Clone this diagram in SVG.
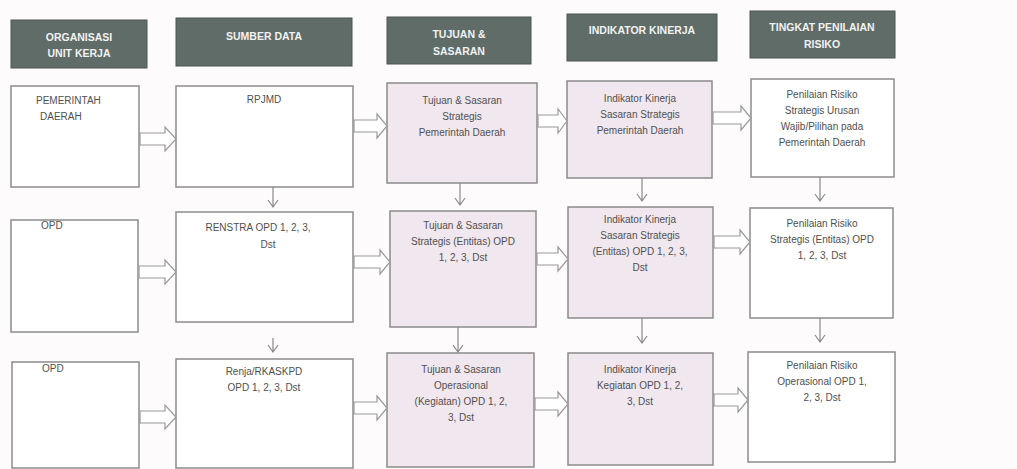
<svg xmlns="http://www.w3.org/2000/svg" width="1017" height="469" viewBox="0 0 1017 469">
<defs>
<style>
.hdr{fill:#5f6c68;stroke:#4a5652;stroke-width:1}
.ht{font-family:"Liberation Sans",Arial,sans-serif;font-size:10.5px;font-weight:bold;fill:#f2f2f2;text-anchor:middle}
.box{fill:#ffffff;stroke:#8c8c8c;stroke-width:1.5}
.pink{fill:#f1e7ef;stroke:#8c8c8c;stroke-width:1.5}
.t{font-family:"Liberation Sans",Arial,sans-serif;font-size:10px;fill:#505050;text-anchor:middle}
.tl{font-family:"Liberation Sans",Arial,sans-serif;font-size:10px;fill:#505050}
.ar{fill:#ffffff;stroke:#9a9a9a;stroke-width:1.2;stroke-linejoin:miter}
.dn{fill:none;stroke:#8a8a8a;stroke-width:1.2}
</style>
</defs>
<rect x="0" y="0" width="1017" height="469" fill="#fdfbfc"/>

<g id="header-organisasi">
<rect class="hdr" x="11" y="20" width="136" height="48"/>
<text class="ht" x="79" y="41">ORGANISASI</text>
<text class="ht" x="79" y="57">UNIT KERJA</text>
</g>
<g id="header-sumber">
<rect class="hdr" x="176" y="18" width="176" height="48"/>
<text class="ht" x="264" y="40">SUMBER DATA</text>
</g>
<g id="header-tujuan">
<rect class="hdr" x="387" y="17" width="144" height="47"/>
<text class="ht" x="459" y="38">TUJUAN &amp;</text>
<text class="ht" x="459" y="55">SASARAN</text>
</g>
<g id="header-indikator">
<rect class="hdr" x="567" y="14" width="150" height="47"/>
<text class="ht" x="642" y="34">INDIKATOR KINERJA</text>
</g>
<g id="header-tingkat">
<rect class="hdr" x="750" y="11" width="145" height="47"/>
<text class="ht" x="822" y="31">TINGKAT PENILAIAN</text>
<text class="ht" x="822" y="48">RISIKO</text>
</g>

<g id="r1c1">
<rect class="box" x="11" y="86" width="128" height="101"/>
<text class="tl" x="36" y="104">PEMERINTAH</text>
<text class="tl" x="40" y="120">DAERAH</text>
</g>
<g id="r1c2">
<rect class="box" x="176" y="86" width="177" height="101"/>
<text class="t" x="264" y="103">RPJMD</text>
</g>
<g id="r1c3">
<rect class="pink" x="387" y="83" width="150" height="100"/>
<text class="t" x="462" y="104">Tujuan &amp; Sasaran</text>
<text class="t" x="462" y="120">Strategis</text>
<text class="t" x="462" y="136">Pemerintah Daerah</text>
</g>
<g id="r1c4">
<rect class="pink" x="567" y="81" width="145" height="97"/>
<text class="t" x="640" y="102">Indikator Kinerja</text>
<text class="t" x="640" y="118">Sasaran Strategis</text>
<text class="t" x="640" y="134">Pemerintah Daerah</text>
</g>
<g id="r1c5">
<rect class="box" x="751" y="79" width="143" height="98"/>
<text class="t" x="822" y="98">Penilaian Risiko</text>
<text class="t" x="822" y="114">Strategis Urusan</text>
<text class="t" x="822" y="130">Wajib/Pilihan pada</text>
<text class="t" x="822" y="146">Pemerintah Daerah</text>
</g>

<g id="r2c1">
<rect class="box" x="11" y="220" width="127" height="112"/>
<text class="tl" x="41" y="229">OPD</text>
</g>
<g id="r2c2">
<rect class="box" x="176" y="212" width="177" height="110"/>
<text class="t" x="258" y="231">RENSTRA OPD 1, 2, 3,</text>
<text class="t" x="268" y="248">Dst</text>
</g>
<g id="r2c3">
<rect class="pink" x="390" y="211" width="146" height="116"/>
<text class="t" x="463" y="229">Tujuan &amp; Sasaran</text>
<text class="t" x="463" y="245">Strategis (Entitas) OPD</text>
<text class="t" x="463" y="261">1, 2, 3, Dst</text>
</g>
<g id="r2c4">
<rect class="pink" x="568" y="207" width="145" height="111"/>
<text class="t" x="640" y="223">Indikator Kinerja</text>
<text class="t" x="640" y="239">Sasaran Strategis</text>
<text class="t" x="640" y="255">(Entitas) OPD 1, 2, 3,</text>
<text class="t" x="640" y="271">Dst</text>
</g>
<g id="r2c5">
<rect class="box" x="750" y="208" width="143" height="110"/>
<text class="t" x="822" y="227">Penilaian Risiko</text>
<text class="t" x="822" y="243">Strategis (Entitas) OPD</text>
<text class="t" x="822" y="259">1, 2, 3, Dst</text>
</g>

<g id="r3c1">
<rect class="box" x="12" y="362" width="127" height="106"/>
<text class="tl" x="42" y="372">OPD</text>
</g>
<g id="r3c2">
<rect class="box" x="176" y="359" width="177" height="109"/>
<text class="t" x="264" y="375">Renja/RKASKPD</text>
<text class="t" x="264" y="391">OPD 1, 2, 3, Dst</text>
</g>
<g id="r3c3">
<rect class="pink" x="387" y="353" width="147" height="114"/>
<text class="t" x="461" y="373">Tujuan &amp; Sasaran</text>
<text class="t" x="461" y="389">Operasional</text>
<text class="t" x="461" y="405">(Kegiatan) OPD 1, 2,</text>
<text class="t" x="461" y="421">3, Dst</text>
</g>
<g id="r3c4">
<rect class="pink" x="568" y="353" width="145" height="112"/>
<text class="t" x="640" y="373">Indikator Kinerja</text>
<text class="t" x="640" y="389">Kegiatan OPD 1, 2,</text>
<text class="t" x="640" y="405">3, Dst</text>
</g>
<g id="r3c5">
<rect class="box" x="748" y="352" width="147" height="110"/>
<text class="t" x="822" y="369">Penilaian Risiko</text>
<text class="t" x="822" y="385">Operasional OPD 1,</text>
<text class="t" x="822" y="401">2, 3, Dst</text>
</g>

<g id="connectors">
<path class="ar" d="M140 133 H165 V127 L176 139 L165 151 V145 H140 Z"/>
<path class="ar" d="M354 120 H377 V114 L387 126 L377 138 V132 H354 Z"/>
<path class="ar" d="M538 115 H558 V109 L567 121 L558 133 V127 H538 Z"/>
<path class="ar" d="M713 112 H741 V106 L751 118 L741 130 V124 H713 Z"/>

<path class="ar" d="M139 266 H165 V260 L176 272 L165 284 V278 H139 Z"/>
<path class="ar" d="M354 256 H380 V250 L390 262 L380 274 V268 H354 Z"/>
<path class="ar" d="M537 253 H558 V247 L568 259 L558 271 V265 H537 Z"/>
<path class="ar" d="M714 236 H740 V230 L750 242 L740 254 V248 H714 Z"/>

<path class="ar" d="M140 411 H165 V405 L176 417 L165 429 V423 H140 Z"/>
<path class="ar" d="M354 402 H377 V396 L387 408 L377 420 V414 H354 Z"/>
<path class="ar" d="M535 398 H558 V392 L568 404 L558 416 V410 H535 Z"/>
<path class="ar" d="M714 394 H738 V388 L748 400 L738 412 V406 H714 Z"/>

<path class="dn" d="M273 187 V207 M268 200 L273 207 L278 200"/>
<path class="dn" d="M460 183 V205 M455 198 L460 205 L465 198"/>
<path class="dn" d="M642 178 V201 M637 194 L642 201 L647 194"/>
<path class="dn" d="M820 177 V201 M815 194 L820 201 L825 194"/>

<path class="dn" d="M273 338 V352 M268 345 L273 352 L278 345"/>
<path class="dn" d="M458 327 V352 M453 345 L458 352 L463 345"/>
<path class="dn" d="M642 318 V343 M637 336 L642 343 L647 336"/>
<path class="dn" d="M820 318 V342 M815 335 L820 342 L825 335"/>
</g>
</svg>
